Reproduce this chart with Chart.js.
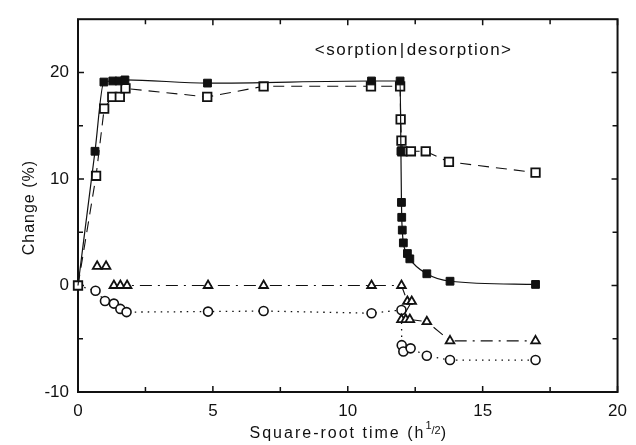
<!DOCTYPE html>
<html>
<head>
<meta charset="utf-8">
<script src="https://cdn.jsdelivr.net/npm/chart.js@4.4.0/dist/chart.umd.min.js"></script>
<style>
  html, body { margin: 0; padding: 0; background: #fff; }
  #wrap { width: 636px; height: 445px; }
</style>
</head>
<body>
<div id="wrap"><canvas id="changeChart"></canvas></div>
<script>
  // ===== DATA: change (%) against square-root time (h^1/2) =====
  const filledX = [0, 0.63, 0.96, 1.29, 1.52, 1.74, 4.8, 10.88, 11.94, 11.97, 11.99, 12.0, 12.02, 12.06, 12.21, 12.3, 12.93, 13.79, 16.96];
  const filledY = [0, 12.6, 19.1, 19.2, 19.2, 19.3, 19.0, 19.2, 19.2, 12.6, 7.8, 6.4, 5.2, 4.0, 3.0, 2.5, 1.1, 0.4, 0.1];

  const openX = [0, 0.67, 0.97, 1.27, 1.55, 1.76, 4.79, 6.88, 10.86, 11.94, 11.96, 11.99, 12.03, 12.34, 12.89, 13.75, 16.96];
  const openY = [0, 10.3, 16.6, 17.7, 17.7, 18.5, 17.7, 18.7, 18.7, 18.7, 15.6, 13.6, 12.6, 12.6, 12.6, 11.6, 10.6];

  const triX = [0, 0.71, 1.04, 1.33, 1.57, 1.82, 4.82, 6.88, 10.88, 11.99, 12.21, 12.37, 11.99, 12.15, 12.3, 12.93, 13.79, 16.96];
  const triY = [0, 1.8, 1.8, 0, 0, 0, 0, 0, 0, 0, -1.5, -1.5, -3.2, -3.2, -3.2, -3.4, -5.2, -5.2];

  const circX = [0, 0.65, 1.0, 1.33, 1.57, 1.8, 4.82, 6.88, 10.88, 11.99, 12.0, 12.06, 12.33, 12.93, 13.79, 16.96];
  const circY = [0, -0.5, -1.45, -1.7, -2.2, -2.5, -2.45, -2.4, -2.6, -2.3, -5.6, -6.2, -5.9, -6.6, -7.0, -7.0];

  // axis ticks
  const xTickLabels = [0, 5, 10, 15, 20];
  const xMinorTicks = [2.5, 7.5, 12.5, 17.5];
  const yTickLabels = [-10, 0, 10, 20];
  const yMinorTicks = [-5, 5, 15];

  const ink = '#111';
  const FONT = "'Liberation Sans', Arial, sans-serif";

  const toPoints = (xs, ys) => xs.map((x, i) => ({ x: x, y: ys[i] }));
  // the shared origin point is only marked once (by the open squares)
  const hideFirst = (r) => (ctx) => ctx.dataIndex === 0 ? 0 : r;
  // the two raised triangles sit apart from the dash-dot line
  const skipRaised = (ctx) => (triY[ctx.p0DataIndex] > 0.5 || triY[ctx.p1DataIndex] > 0.5) ? 'rgba(0,0,0,0)' : undefined;

  // ===== FRAME, INWARD TICKS, TITLES =====
  const frameAndText = {
    id: 'frameAndText',
    beforeDatasetsDraw(chart) {
      const { ctx, chartArea: a, scales: { x, y } } = chart;
      ctx.save();
      ctx.strokeStyle = ink;
      ctx.lineWidth = 2;
      ctx.strokeRect(a.left, a.top, a.right - a.left, a.bottom - a.top);

      ctx.lineWidth = 1.5;
      ctx.beginPath();
      const xTick = (v, len) => {
        const px = x.getPixelForValue(v);
        ctx.moveTo(px, a.bottom); ctx.lineTo(px, a.bottom - len);
        ctx.moveTo(px, a.top); ctx.lineTo(px, a.top + len);
      };
      const yTick = (v, len) => {
        const py = y.getPixelForValue(v);
        ctx.moveTo(a.left, py); ctx.lineTo(a.left + len, py);
        ctx.moveTo(a.right, py); ctx.lineTo(a.right - len, py);
      };
      xTickLabels.forEach(v => xTick(v, 6));
      xMinorTicks.forEach(v => xTick(v, 5));
      yTickLabels.forEach(v => yTick(v, 6));
      yMinorTicks.forEach(v => yTick(v, 5));
      ctx.stroke();
      ctx.restore();
    },
    afterDraw(chart) {
      const { ctx, chartArea: a, scales: { x } } = chart;
      ctx.save();
      ctx.fillStyle = ink;
      ctx.textBaseline = 'middle';

      // y title
      ctx.save();
      ctx.translate(30, (a.top + a.bottom) / 2 + 2);
      ctx.rotate(-Math.PI / 2);
      ctx.font = '16px ' + FONT;
      ctx.letterSpacing = '1px';
      ctx.textAlign = 'center';
      ctx.fillText('Change (%)', 0, 0);
      ctx.restore();

      // x title with h^(1/2)
      const main = '16px ' + FONT, small = '11px ' + FONT;
      const parts = [
        { t: 'Square-root time (h', f: main, dy: 0, ls: '2px' },
        { t: '1', f: small, dy: -8, ls: '0px' },
        { t: '/2', f: small, dy: -3, ls: '0px' },
        { t: ')', f: main, dy: 0, ls: '0px' }
      ];
      let total = 0;
      parts.forEach(p => { ctx.font = p.f; ctx.letterSpacing = p.ls; p.w = ctx.measureText(p.t).width; total += p.w; });
      let cx = (a.left + a.right) / 2 - total / 2;
      ctx.textAlign = 'left';
      parts.forEach(p => { ctx.font = p.f; ctx.letterSpacing = p.ls; ctx.fillText(p.t, cx, 434 + p.dy); cx += p.w; });

      // sorption | desorption marker at the switch time
      ctx.font = '17px ' + FONT;
      ctx.letterSpacing = '1.5px';
      const sx = x.getPixelForValue(12);
      const ty = 50;
      ctx.textAlign = 'left';
      ctx.fillText('|', sx - 2, ty);
      ctx.textAlign = 'right';
      ctx.fillText('<sorption', sx - 3, ty);
      ctx.textAlign = 'left';
      ctx.fillText('desorption>', sx + 5, ty);
      ctx.restore();
    }
  };

  const ctx = document.getElementById('changeChart').getContext('2d');
  const changeChart = new Chart(ctx, {
    type: 'line',
    data: {
      datasets: [
        {
          label: 'filled',
          data: toPoints(filledX, filledY),
          borderColor: ink,
          borderWidth: 1.2,
          cubicInterpolationMode: 'monotone',
          pointStyle: 'rect',
          pointRadius: hideFirst(5.5),
          pointBackgroundColor: ink,
          pointBorderColor: ink,
          pointBorderWidth: 1,
          clip: false
        },
        {
          label: 'open',
          data: toPoints(openX, openY),
          borderColor: ink,
          borderWidth: 1.1,
          borderDash: [11, 7],
          tension: 0,
          pointStyle: 'rect',
          pointRadius: 6,
          pointBackgroundColor: '#fff',
          pointBorderColor: ink,
          pointBorderWidth: 1.8,
          clip: false
        },
        {
          label: 'triangle',
          data: toPoints(triX, triY),
          borderColor: ink,
          borderWidth: 1.1,
          borderDash: [12, 6, 2, 6],
          tension: 0,
          segment: { borderColor: skipRaised },
          pointStyle: 'triangle',
          pointRadius: hideFirst(5),
          pointBackgroundColor: '#fff',
          pointBorderColor: ink,
          pointBorderWidth: 1.8,
          clip: false
        },
        {
          label: 'circle',
          data: toPoints(circX, circY),
          borderColor: ink,
          borderWidth: 1.3,
          borderDash: [1.5, 5],
          tension: 0,
          pointStyle: 'circle',
          pointRadius: hideFirst(4.5),
          pointBackgroundColor: '#fff',
          pointBorderColor: ink,
          pointBorderWidth: 1.6,
          clip: false
        }
      ]
    },
    options: {
      responsive: true,
      maintainAspectRatio: false,
      animation: false,
      layout: { padding: { top: 14, right: 17, left: 0, bottom: 0 } },
      scales: {
        x: {
          type: 'linear',
          min: 0,
          max: 20,
          afterBuildTicks: (s) => { s.ticks = xTickLabels.map(v => ({ value: v })); },
          afterFit: (s) => { s.height = 53; },
          grid: { display: false, drawTicks: false },
          border: { display: false },
          ticks: { padding: 9, color: ink, font: { family: FONT, size: 17 }, maxRotation: 0 }
        },
        y: {
          type: 'linear',
          min: -10,
          max: 25,
          afterBuildTicks: (s) => { s.ticks = yTickLabels.map(v => ({ value: v })); },
          afterFit: (s) => { s.width = 78; },
          grid: { display: false, drawTicks: false },
          border: { display: false },
          ticks: { padding: 9, color: ink, font: { family: FONT, size: 17 } }
        }
      },
      plugins: {
        legend: { display: false },
        tooltip: { enabled: false }
      }
    },
    plugins: [frameAndText]
  });
</script>
</body>
</html>
